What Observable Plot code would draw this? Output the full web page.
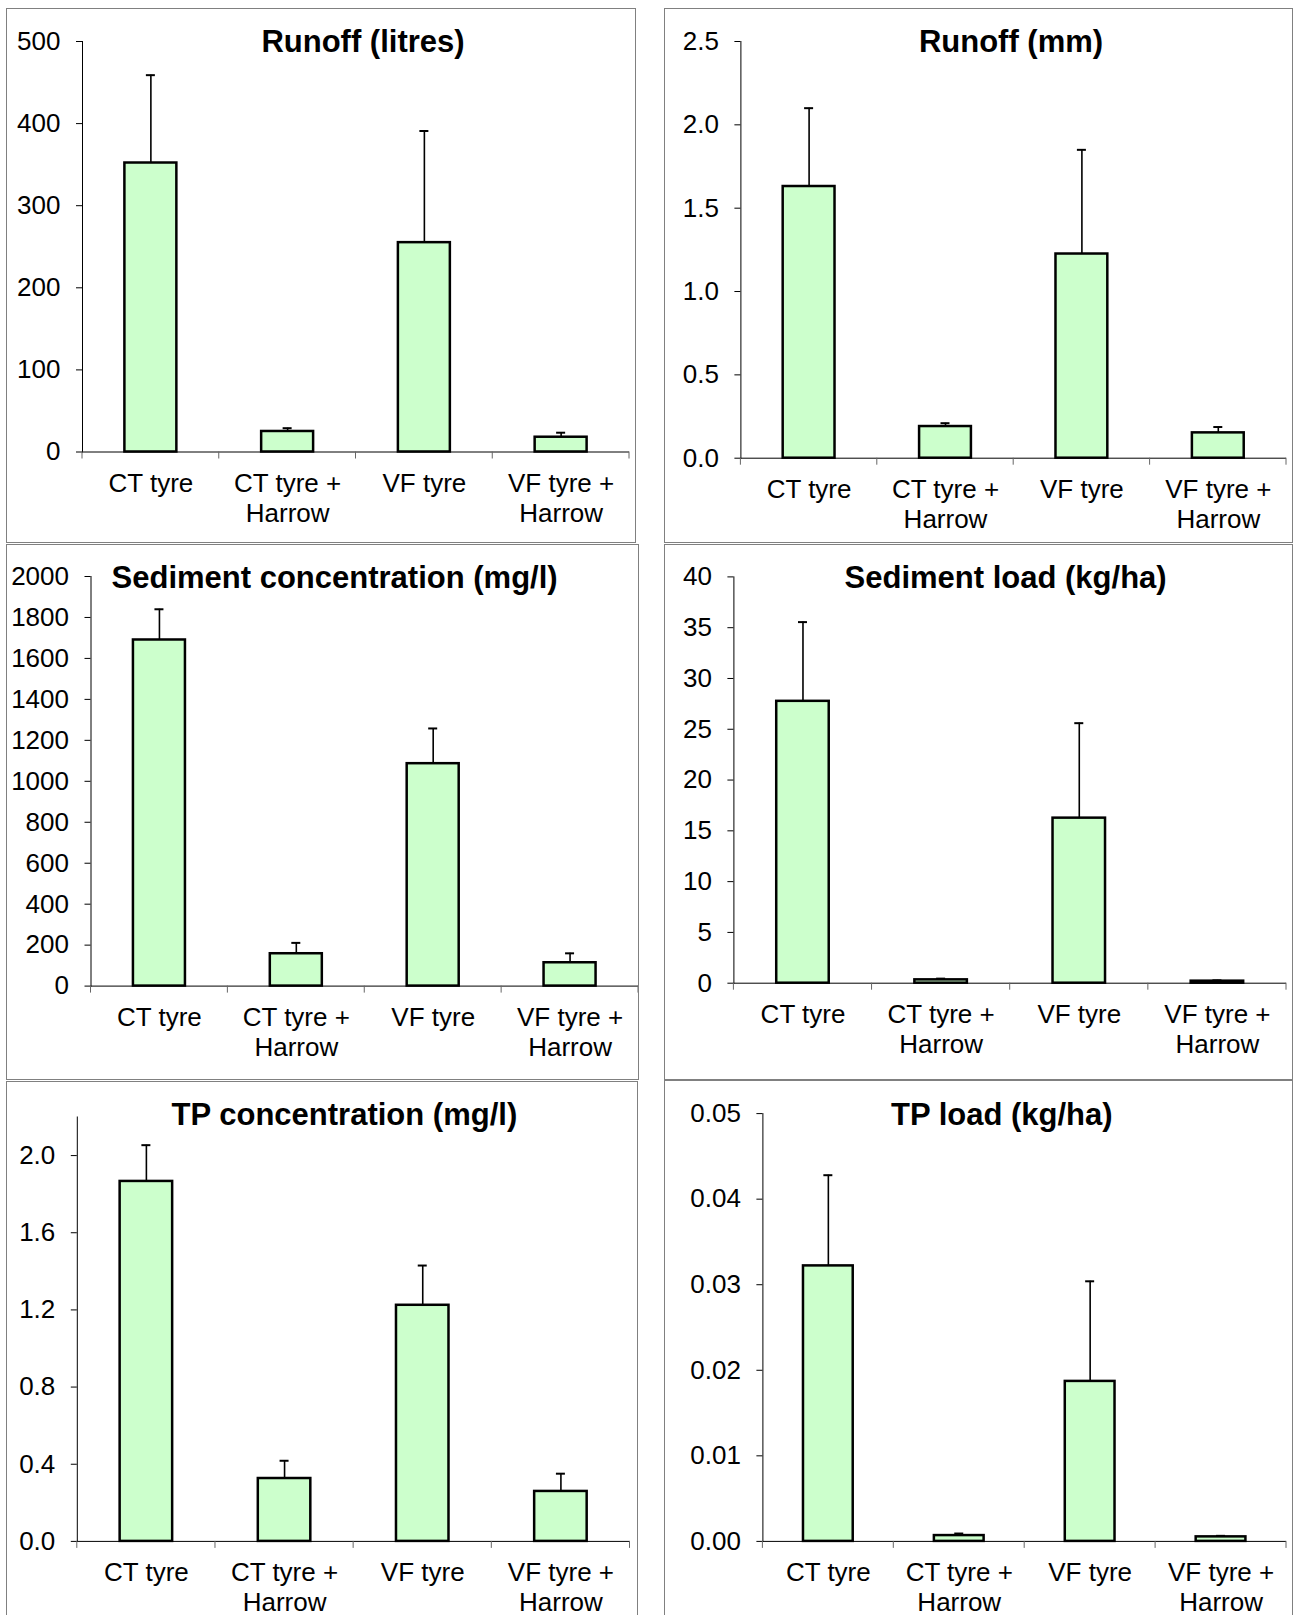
<!DOCTYPE html>
<html>
<head>
<meta charset="utf-8">
<script src="https://cdn.jsdelivr.net/npm/d3@7"></script>
<script src="https://cdn.jsdelivr.net/npm/@observablehq/plot@0.6"></script>
<style>
  html, body { margin: 0; padding: 0; background: #fff; }
  #page { position: relative; width: 1295px; height: 1615px; overflow: hidden; background: #fff;
          font-family: "Liberation Sans", Arial, sans-serif; }
  .frame { position: absolute; box-sizing: border-box; border: 1px solid #808080; }
  .title { position: absolute; width: 800px; text-align: center; font-weight: bold; font-size: 31px;
           line-height: 31px; white-space: nowrap; color: #000; }
</style>
</head>
<body>
<div id="page"></div>
<script>
// Treatments along the x axis of every panel
const treatments = ["CT tyre", "CT tyre +\nHarrow", "VF tyre", "VF tyre +\nHarrow"];

// Runoff (litres): mean and standard error
const runoffLitres = [352, 25, 255, 18];
const runoffLitresErr = [107, 4, 136, 5.5];
const runoffLitresTicks = [0, 100, 200, 300, 400, 500];

// Runoff (mm)
const runoffMm = [1.63, 0.19, 1.225, 0.152];
const runoffMmErr = [0.47, 0.02, 0.625, 0.035];
const runoffMmTicks = [0, 0.5, 1.0, 1.5, 2.0, 2.5];

// Sediment concentration (mg/l)
const sedimentConc = [1690, 158, 1086, 114];
const sedimentConcErr = [150, 53, 172, 46];
const sedimentConcTicks = [0, 200, 400, 600, 800, 1000, 1200, 1400, 1600, 1800, 2000];

// Sediment load (kg/ha)
const sedimentLoad = [27.75, 0.33, 16.25, 0.2];
const sedimentLoadErr = [7.8, 0.12, 9.35, 0.08];
const sedimentLoadTicks = [0, 5, 10, 15, 20, 25, 30, 35, 40];

// TP concentration (mg/l)
const tpConc = [1.866, 0.326, 1.224, 0.259];
const tpConcErr = [0.188, 0.092, 0.206, 0.092];
const tpConcTicks = [0, 0.4, 0.8, 1.2, 1.6, 2.0];

// TP load (kg/ha)
const tpLoad = [0.0322, 0.00068, 0.0187, 0.00053];
const tpLoadErr = [0.0106, 0.00024, 0.0117, 0.00012];
const tpLoadTicks = [0, 0.01, 0.02, 0.03, 0.04, 0.05];

// Panel layout: frame box on the page, plot margins and title centre (panel-local)
const panels = [
  {title: "Runoff (litres)", values: runoffLitres, errors: runoffLitresErr, ticks: runoffLitresTicks,
   max: 500, format: d3.format("d"),
   box: [6, 8, 630, 535], frameH: 535, m: [33, 7, 91.5, 76], titleAt: [357, 33.5]},
  {title: "Runoff (mm)", values: runoffMm, errors: runoffMmErr, ticks: runoffMmTicks,
   max: 2.5, format: d3.format(".1f"),
   box: [664, 8, 629, 535], frameH: 535, m: [33, 7, 85.3, 76.4], titleAt: [347, 33.5]},
  {title: "Sediment concentration (mg/l)", values: sedimentConc, errors: sedimentConcErr, ticks: sedimentConcTicks,
   max: 2000, format: d3.format("d"),
   box: [6, 544, 633, 536], frameH: 536, m: [32, 1, 94.4, 84.5], titleAt: [328.6, 33]},
  {title: "Sediment load (kg/ha)", values: sedimentLoad, errors: sedimentLoadErr, ticks: sedimentLoadTicks,
   max: 40, format: d3.format("d"),
   box: [664, 544, 629, 536], frameH: 536, m: [32.4, 7, 97.3, 69.4], titleAt: [341.6, 33]},
  {title: "TP concentration (mg/l)", values: tpConc, errors: tpConcErr, ticks: tpConcTicks,
   max: 2.2, format: d3.format(".1f"),
   box: [6, 1081, 632, 534], frameH: 560, m: [35.5, 8.5, 74.1, 70.8], titleAt: [338.4, 33.4]},
  {title: "TP load (kg/ha)", values: tpLoad, errors: tpLoadErr, ticks: tpLoadTicks,
   max: 0.05, format: d3.format(".2f"),
   box: [664, 1080, 629, 535], frameH: 560, m: [33.1, 7, 74.1, 98.4], titleAt: [337.8, 34.4]}
];

const PAD_INNER = 0.62;
const CAP = 9;
const page = document.getElementById("page");

for (const p of panels) {
  const [left, top, width, height] = p.box;
  const [mt, mr, mb, ml] = p.m;
  const rows = treatments.map((t, i) => ({
    treatment: t,
    mean: p.values[i],
    upper: p.values[i] + p.errors[i]
  }));

  const step = (width - ml - mr) / treatments.length;
  const bandwidth = step * (1 - PAD_INNER);
  const capInset = (bandwidth - CAP) / 2;

  const chart = Plot.plot({
    width, height,
    marginTop: mt, marginRight: mr, marginBottom: mb, marginLeft: ml,
    style: {
      fontFamily: '"Liberation Sans", Arial, sans-serif',
      fontSize: "26px",
      color: "black",
      background: "transparent",
      overflow: "visible",
      maxWidth: "none"
    },
    x: {domain: treatments, paddingInner: PAD_INNER, paddingOuter: PAD_INNER / 2, round: false, axis: null},
    y: {domain: [0, p.max], ticks: p.ticks, tickFormat: p.format, tickSize: 6, tickPadding: 16,
        line: true, label: null},
    marks: [
      Plot.ruleY([0], {stroke: "black", strokeWidth: 1}),
      Plot.ruleX(rows, {x: "treatment", y1: "mean", y2: "upper", stroke: "black", strokeWidth: 1.6}),
      Plot.barY(rows, {x: "treatment", y: "mean", fill: "#ccffcc", stroke: "black", strokeWidth: 2.5}),
      Plot.tickY(rows, {x: "treatment", y: "upper", stroke: "black", strokeWidth: 2, inset: capInset}),
      Plot.text(treatments, {
        x: d => d, y: () => 0, text: d => d,
        lineAnchor: "top", lineHeight: 1.17, dy: 18, fill: "black"
      })
    ]
  });

  // category boundary ticks below the x axis
  const xr = chart.scale("x").range;
  const yr = chart.scale("y").range;
  const y0 = Math.max(yr[0], yr[1]);
  const n = treatments.length;
  const g = d3.select(chart).append("g").attr("stroke", "#666").attr("stroke-width", 1);
  for (let i = 0; i <= n; i++) {
    const x = xr[0] + i * (xr[1] - xr[0]) / n;
    g.append("line").attr("x1", x).attr("x2", x).attr("y1", y0).attr("y2", y0 + 7);
  }

  chart.style.position = "absolute";
  chart.style.left = left + "px";
  chart.style.top = top + "px";
  page.appendChild(chart);

  const frame = document.createElement("div");
  frame.className = "frame";
  Object.assign(frame.style, {left: left + "px", top: top + "px", width: width + "px", height: p.frameH + "px"});
  page.appendChild(frame);

  const title = document.createElement("div");
  title.className = "title";
  title.textContent = p.title;
  Object.assign(title.style, {
    left: (left + p.titleAt[0] - 400) + "px",
    top: (top + p.titleAt[1] - 15.5) + "px"
  });
  page.appendChild(title);
}
</script>
</body>
</html>
